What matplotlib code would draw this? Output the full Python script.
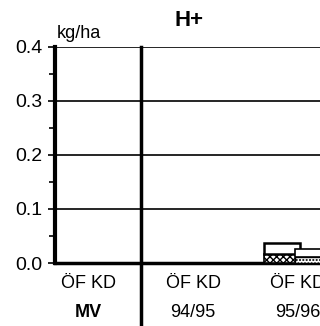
import numpy as np
import matplotlib
matplotlib.use("Agg")
import matplotlib.pyplot as plt

groups = ["MV", "94/95", "95/96"]
of_low = [np.nan, np.nan, 0.017]
of_total = [np.nan, np.nan, 0.037]
kd_low = [np.nan, np.nan, 0.011]
kd_total = [np.nan, np.nan, 0.026]
yticks = [0.0, 0.1, 0.2, 0.3, 0.4]

plt.rcParams['font.family'] = ['Liberation Sans', 'DejaVu Sans']
plt.rcParams['hatch.linewidth'] = 1.0

fig = plt.figure(figsize=(3.2, 3.26), dpi=100)
ax = fig.add_axes([0.172, 0.193, 0.86, 0.664])

x = np.arange(len(groups))
w = 0.35
off = 0.15

of_up = np.array(of_total) - np.array(of_low)
kd_up = np.array(kd_total) - np.array(kd_low)

ax.bar(x - off, of_low, w, color='white', edgecolor='black', hatch='xxxxx', lw=1.2, zorder=3)
ax.bar(x - off, of_up, w, bottom=of_low, color='white', edgecolor='black', lw=1.8, zorder=3)
ax.bar(x + off, kd_low, w, color='white', edgecolor='black', hatch='.....', lw=1.0, zorder=3)
ax.bar(x + off, kd_up, w, bottom=kd_low, color='white', edgecolor='black', lw=1.2, zorder=3)

ax.set_xlim(-0.317, 2.31)
ax.set_ylim(0, 0.4)
ax.set_yticks(yticks)
ax.set_yticklabels(["%.1f" % v for v in yticks], fontsize=14)
ax.set_yticks(np.arange(0.05, 0.4, 0.1), minor=True)
ax.tick_params(axis='y', which='major', length=5, width=1.2, pad=4)
ax.tick_params(axis='y', which='minor', length=4, width=1.2)
ax.set_xticks([])

for v in yticks[1:]:
    ax.axhline(v, color='black', lw=1.2, zorder=1)

for s in ['top', 'right']:
    ax.spines[s].set_visible(False)
ax.spines['left'].set_linewidth(3)
ax.spines['bottom'].set_linewidth(2.5)

# separator between MV and the seasons, runs down through the labels
ax.plot([0.5, 0.5], [0.4, -0.12], color='black', lw=2.5, clip_on=False, zorder=4)

for i, g in enumerate(groups):
    ax.text(i, -0.037, "ÖF KD", ha='center', va='center', fontsize=13)
    ax.text(i, -0.092, g, ha='center', va='center', fontsize=13,
            fontweight='bold' if g == "MV" else 'normal')

fig.text(0.178, 0.897, "kg/ha", fontsize=13, ha='left', va='center')
fig.text(0.59, 0.937, "H+", fontsize=16, fontweight='bold', ha='center', va='center')

fig.savefig("out.png", dpi=100)
